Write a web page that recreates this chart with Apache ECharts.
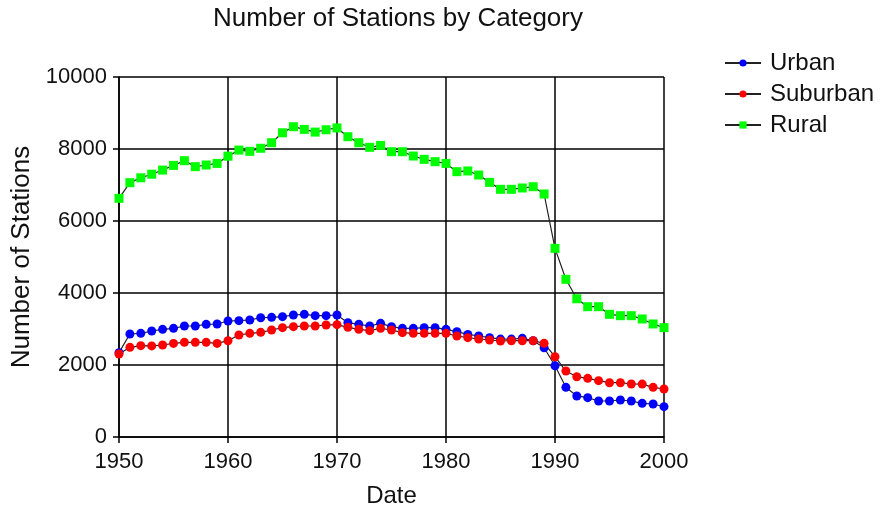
<!DOCTYPE html>
<html><head><meta charset="utf-8">
<script src="https://cdn.jsdelivr.net/npm/echarts@6/dist/echarts.min.js"></script>
<style>html,body{margin:0;padding:0;background:#fff}#c{width:884px;height:512px}</style>
</head><body><div id="c"></div>
<script>
const years = [];
for (let y = 1950; y <= 2000; y++) years.push(y);
const urban = [2343,2861,2880,2944,2990,3018,3083,3083,3130,3139,3222,3231,3250,3314,3324,3342,3389,3407,3370,3370,3389,3176,3130,3083,3157,3065,3018,3018,3037,3037,2990,2925,2850,2805,2760,2720,2720,2740,2675,2480,1980,1380,1140,1092,1000,1000,1028,1000,935,917,842];
const suburban = [2305,2490,2537,2530,2555,2600,2630,2630,2630,2600,2675,2833,2880,2907,2972,3037,3065,3083,3083,3111,3120,3046,2990,2953,3018,2972,2898,2880,2880,2880,2880,2805,2760,2722,2694,2666,2675,2675,2675,2602,2230,1833,1675,1630,1565,1508,1508,1472,1470,1380,1333];
const rural = [6630,7065,7200,7300,7415,7545,7675,7510,7555,7600,7800,7970,7935,8020,8175,8450,8620,8545,8470,8535,8585,8342,8175,8047,8100,7925,7925,7805,7713,7648,7600,7370,7390,7277,7073,6880,6880,6917,6953,6750,5240,4380,3840,3620,3620,3408,3370,3370,3278,3140,3037];
const xTicks = [1950,1960,1970,1980,1990,2000];
const yTicks = [0,2000,4000,6000,8000,10000];
const font = 'Liberation Sans, Arial, sans-serif';
const pairs = a => a.map((v,i)=>[years[i], v]);
const chart = echarts.init(document.getElementById('c'));
const mk = (name, data, color, symbol, size) => ({
  name, type:'line', data: pairs(data), symbol, symbolSize: size,
  itemStyle:{color, borderWidth:0},
  lineStyle:{color:'#222', width:1.2},
  emphasis:{disabled:true}, animation:false
});
chart.setOption({
  animation:false,
  title:{text:'Number of Stations by Category', left:393, top:1, textAlign:'center',
    textStyle:{fontFamily:font, fontSize:26, fontWeight:'normal', color:'#111'}},
  legend:{orient:'vertical', left:719, top:46, itemGap:7, itemWidth:36, itemHeight:9,
    textStyle:{fontFamily:font, fontSize:24, color:'#111', padding:[0,0,0,4]},
    data:['Urban','Suburban','Rural']},
  grid:{left:119, right:220, top:77, bottom:75, containLabel:false, outerBoundsMode:'none'},
  xAxis:{type:'value', min:1950, max:2000, interval:10, name:'Date', nameLocation:'middle', nameGap:47,
    nameTextStyle:{fontFamily:font, fontSize:24, color:'#111'},
    axisLine:{lineStyle:{color:'#000', width:1.5}},
    axisTick:{show:true, length:6, lineStyle:{color:'#000', width:1.5}},
    axisLabel:{fontFamily:font, fontSize:22, color:'#111', margin:14, formatter: v => String(v)},
    splitLine:{show:true, lineStyle:{color:'#000', width:1.5}}},
  yAxis:{type:'value', min:0, max:10000, interval:2000, name:'Number of Stations', nameLocation:'middle', nameGap:83,
    nameTextStyle:{fontFamily:font, fontSize:26, color:'#111'},
    axisLine:{show:true, lineStyle:{color:'#000', width:1.5}},
    axisTick:{show:true, length:6, lineStyle:{color:'#000', width:1.5}},
    axisLabel:{fontFamily:font, fontSize:22, color:'#111', margin:12, formatter: v => String(v)},
    splitLine:{show:true, lineStyle:{color:'#000', width:1.5}}},
  series:[
    mk('Urban', urban, '#0000ff', 'circle', 9),
    mk('Suburban', suburban, '#ff0000', 'circle', 9),
    mk('Rural', rural, '#00ff00', 'rect', 9)
  ]
});
</script></body></html>
